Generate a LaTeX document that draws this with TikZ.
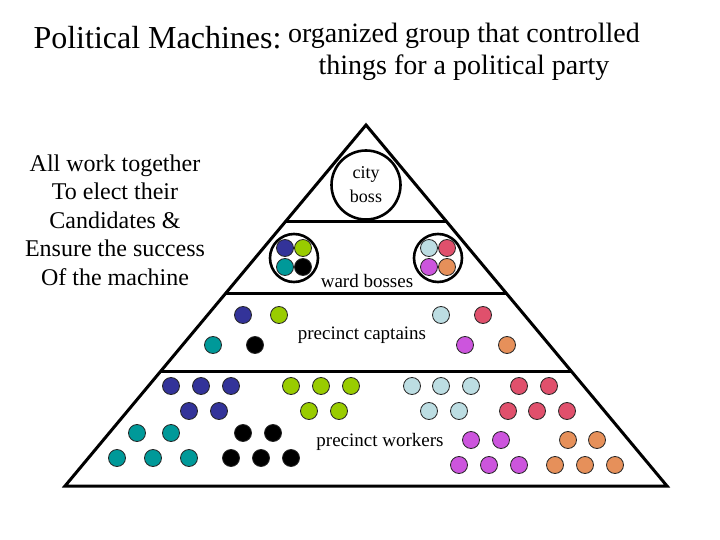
\documentclass[tikz,border=0pt]{standalone}
\usepackage{fontspec}
\setmainfont{Liberation Serif}
\usetikzlibrary{calc}

\definecolor{pblue}{HTML}{333399}
\definecolor{pgreen}{HTML}{99CC00}
\definecolor{pteal}{HTML}{009999}
\definecolor{pblack}{HTML}{000000}
\definecolor{pice}{HTML}{BCDDE2}
\definecolor{prose}{HTML}{E0506C}
\definecolor{pviolet}{HTML}{CC55DD}
\definecolor{porange}{HTML}{E6905A}

\begin{document}
\begin{tikzpicture}[x=1pt, y=-1pt,
    dot/.style={circle, draw=black!85, line width=0.8pt, inner sep=0pt, minimum size=17pt},
    ring/.style={circle, draw, line width=2.6pt, inner sep=0pt},
    tier/.style={line width=3pt},
    tag/.style={font=\fontsize{19}{22}\selectfont}]
    \useasboundingbox (0,0) rectangle (720,540);

    % title
    \node[anchor=base west, font=\fontsize{32}{36}\selectfont] (title) at (30,49) {Political Machines:};
    \node[align=center, font=\fontsize{28}{32}\selectfont] (meaning) at (464,52) {organized group that controlled\\things for a political party};
    \node[align=center, font=\fontsize{24}{28.5}\selectfont] (aim) at (115,220) {All work together\\To elect their\\Candidates \&\\Ensure the success\\Of the machine};

    % pyramid
    \coordinate (apex) at (366,125);
    \coordinate (bl) at (65,486);
    \coordinate (br) at (667,486);
    \draw[tier, line join=miter] (apex) -- (br) -- (bl) -- cycle;
    \foreach \t in {0.266, 0.468, 0.684}
        \draw[tier] ($(apex)!\t!(bl)$) -- ($(apex)!\t!(br)$);

    % city boss
    \node[ring, minimum size=69pt, align=center, tag, font=\fontsize{18}{24}\selectfont] (boss) at (366,185) {city\\boss};

    % ward bosses
    \node[ring, minimum size=48pt] (wardL) at (294,258) {};
    \node[ring, minimum size=48pt] (wardR) at (438,258) {};
    \node[dot, fill=pblue] (wb1) at (285,248) {};
    \node[dot, fill=pgreen] (wb2) at (303,248) {};
    \node[dot, fill=pteal] (wb3) at (285,267) {};
    \node[dot, fill=pblack] (wb4) at (303,267) {};
    \node[dot, fill=pice] (wb5) at (429,248) {};
    \node[dot, fill=prose] (wb6) at (447,248) {};
    \node[dot, fill=pviolet] (wb7) at (429,267) {};
    \node[dot, fill=porange] (wb8) at (447,267) {};
    \node[tag] (wardtxt) at (367,281) {ward bosses};

    % precinct captains
    \node[dot, fill=pblue] (pc1) at (243,315) {};
    \node[dot, fill=pgreen] (pc2) at (279,315) {};
    \node[dot, fill=pteal] (pc3) at (213,345) {};
    \node[dot, fill=pblack] (pc4) at (255,345) {};
    \node[dot, fill=pice] (pc5) at (441,315) {};
    \node[dot, fill=prose] (pc6) at (483,315) {};
    \node[dot, fill=pviolet] (pc7) at (465,345) {};
    \node[dot, fill=porange] (pc8) at (507,345) {};
    \node[tag] (captxt) at (362,335) {precinct captains};

    % precinct workers
    \foreach \c/\l in {
        pblue/{(171,386),(201,386),(231,386),(189,411),(219,411)},
        pgreen/{(291,386),(321,386),(351,386),(309,411),(339,411)},
        pteal/{(137,433),(171,433),(117,458),(153,458),(189,458)},
        pblack/{(243,433),(273,433),(231,458),(261,458),(291,458)},
        pice/{(412,386),(441,386),(471,386),(429,411),(459,411)},
        prose/{(519,386),(549,386),(508,411),(537,411),(567,411)},
        pviolet/{(471,440),(501,440),(459,465),(489,465),(519,465)},
        porange/{(568,440),(597,440),(555,465),(585,465),(615,465)}}
        \foreach \p [count=\i] in \l
            \node[dot, fill=\c] (w-\c-\i) at \p {};
    \node[tag] (worktxt) at (380,442) {precinct workers};
\end{tikzpicture}
\end{document}
